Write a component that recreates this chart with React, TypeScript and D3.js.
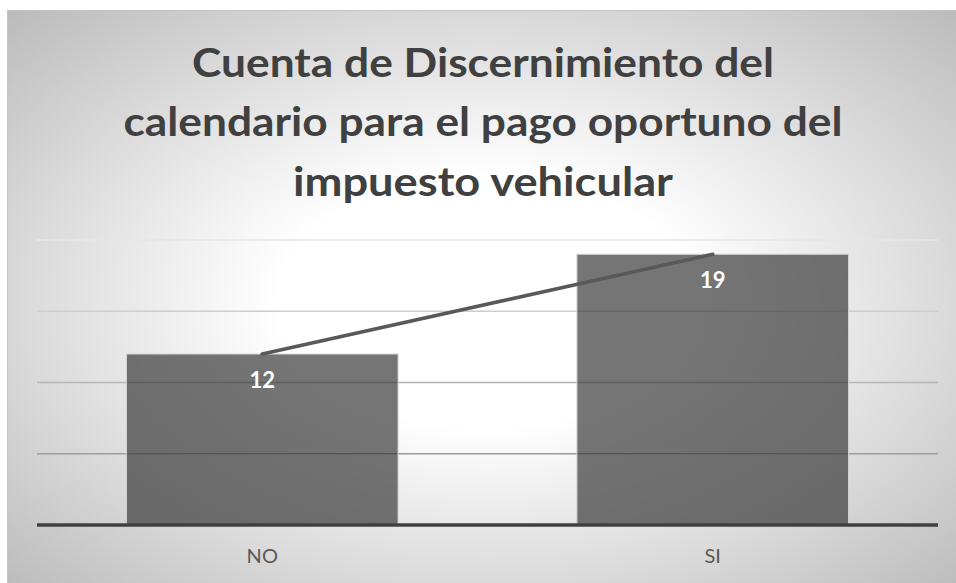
import React from "react";
import * as d3 from "d3";

const categories = ["NO", "SI"];
const counts = [12, 19];
const gridTicks = [5, 10, 15, 20];
const titleLines = [
  "Cuenta de Discernimiento del",
  "calendario para el pago oportuno del",
  "impuesto vehicular",
];

const W = 956;
const H = 583;
const plot = { left: 37, right: 938, top: 240, bottom: 525 };

export default function App() {
  const x = d3
    .scaleBand<string>()
    .domain(categories)
    .range([plot.left, plot.right])
    .paddingInner(0.397)
    .paddingOuter(0.1985);
  const y = d3.scaleLinear().domain([0, 20]).range([plot.bottom, plot.top]);

  const lineGen = d3
    .line<number>()
    .x((_, i) => (x(categories[i]) as number) + x.bandwidth() / 2)
    .y((d) => y(d));

  const titleBase = [77, 136, 196];
  const titleWidths = [582, 719, 380];
  const titleCx = 483;

  return (
    <svg
      width={W}
      height={H}
      style={{ position: "absolute", left: 0, top: 0 }}
      fontFamily="Lato, 'Open Sans', sans-serif"
    >
      <defs>
        <radialGradient id="bg" cx="0.5" cy="0.5" r="0.72">
          <stop offset="0" stopColor="#ffffff" />
          <stop offset="0.3" stopColor="#ffffff" />
          <stop offset="1" stopColor="#b9b9b9" />
        </radialGradient>
        <linearGradient
          id="gridGrad"
          gradientUnits="userSpaceOnUse"
          x1="0"
          y1={plot.top}
          x2="0"
          y2={y(5)}
        >
          <stop offset="0" stopColor="#e6e6e6" />
          <stop offset="1" stopColor="#9c9c9c" />
        </linearGradient>
      </defs>
      <rect x={0} y={0} width={W} height={H} fill="#ffffff" />
      <rect
        x={7.5}
        y={10.5}
        width={W}
        height={H}
        fill="url(#bg)"
        stroke="#c4c4c4"
        strokeWidth={1}
      />

      {titleLines.map((t, i) => (
        <text
          key={i}
          x={titleCx}
          y={titleBase[i]}
          textAnchor="middle"
          fontSize={40}
          fontWeight={700}
          fill="#404040"
          textLength={titleWidths[i]}
          lengthAdjust="spacingAndGlyphs"
        >
          {t}
        </text>
      ))}

      {gridTicks.map((t) => (
        <line
          key={t}
          x1={plot.left}
          x2={plot.right}
          y1={y(t)}
          y2={y(t)}
          stroke="url(#gridGrad)"
          strokeWidth={1.5}
        />
      ))}

      {categories.map((c, i) => (
        <rect
          key={c}
          x={x(c)}
          y={y(counts[i])}
          width={x.bandwidth()}
          height={y(0) - y(counts[i])}
          fill="rgba(58,58,58,0.7)"
          stroke="#d6d6d6"
          strokeWidth={1}
        />
      ))}

      <line
        x1={plot.left}
        x2={plot.right}
        y1={y(0)}
        y2={y(0)}
        stroke="#404040"
        strokeWidth={3.5}
      />

      <path
        d={lineGen(counts) || ""}
        fill="none"
        stroke="#595959"
        strokeWidth={3.5}
        strokeLinecap="round"
      />

      {categories.map((c, i) => (
        <text
          key={"l" + c}
          x={(x(c) as number) + x.bandwidth() / 2}
          y={y(counts[i]) + 34}
          textAnchor="middle"
          fontSize={22}
          fontWeight={700}
          fill="#ffffff"
        >
          {counts[i]}
        </text>
      ))}

      {categories.map((c) => (
        <text
          key={"c" + c}
          x={(x(c) as number) + x.bandwidth() / 2}
          y={563}
          textAnchor="middle"
          fontSize={20}
          fill="#595959"
        >
          {c}
        </text>
      ))}
    </svg>
  );
}
